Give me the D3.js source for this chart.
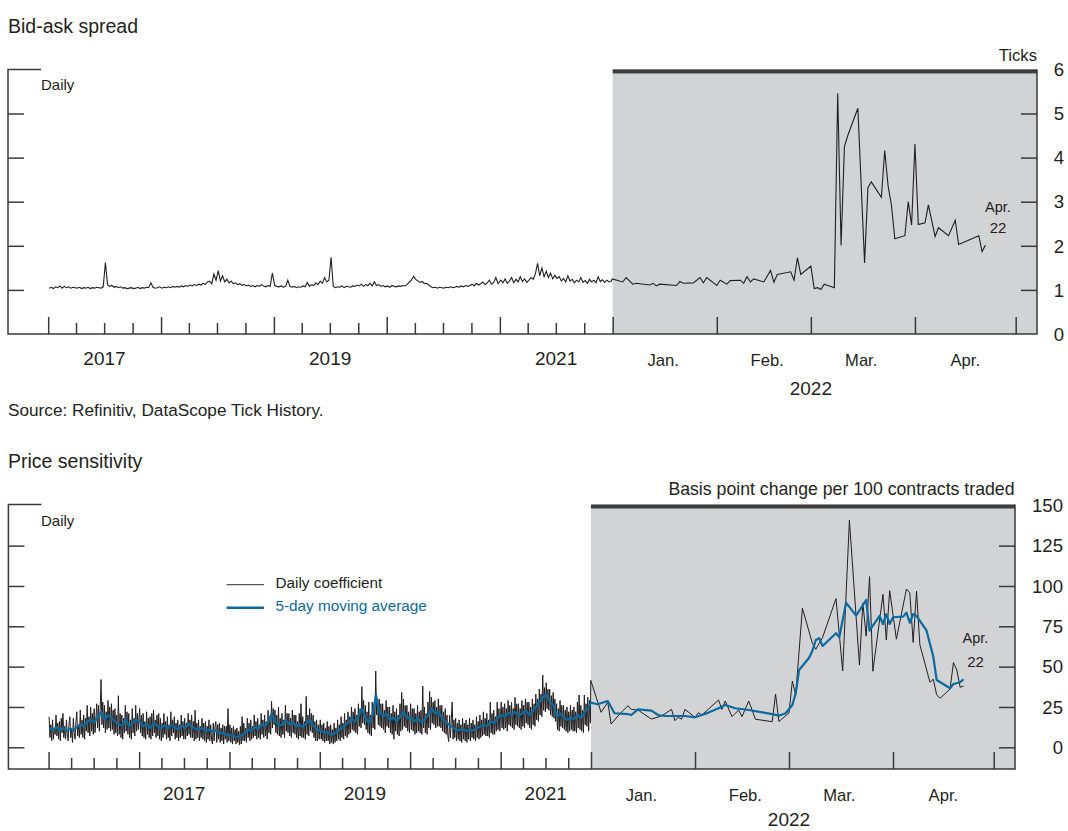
<!DOCTYPE html>
<html><head><meta charset="utf-8">
<script src="https://cdn.jsdelivr.net/npm/d3@7"></script>
<style>
html,body{margin:0;padding:0;background:#fff;}
svg{display:block;}
text{font-family:"Liberation Sans", Arial, sans-serif; fill:#231f20;}
</style></head><body>
<svg id="chart" width="1068" height="831"></svg>
<script>
// ---------- DATA ----------
// Bid-ask spread (ticks), weekly readings 2017-2021
const spread2017 = [1.04,1.06,1.03,1.07,1.05,1.09,1.04,1.08,1.05,1.07,1.04,1.06,1.05,1.04,1.06,1.03,1.05,1.04,1.06,1.03,1.05,1.04,1.06,1.05,1.04,1.07,1.62,1.12,1.08,1.10,1.06,1.08,1.05,1.07,1.04,1.05,1.03,1.04,1.05,1.03,1.04,1.06,1.03,1.05,1.04,1.06,1.05,1.16,1.06,1.04,1.05,1.07];
const spread2018 = [1.04,1.06,1.05,1.07,1.05,1.08,1.06,1.08,1.06,1.09,1.07,1.10,1.08,1.11,1.09,1.12,1.10,1.13,1.11,1.15,1.12,1.18,1.20,1.14,1.36,1.22,1.44,1.20,1.32,1.18,1.24,1.16,1.20,1.14,1.16,1.12,1.14,1.10,1.12,1.09,1.11,1.08,1.10,1.07,1.10,1.08,1.12,1.09,1.07,1.10,1.08,1.38];
const spread2019 = [1.10,1.08,1.07,1.09,1.06,1.08,1.22,1.08,1.06,1.08,1.05,1.07,1.06,1.09,1.07,1.17,1.08,1.12,1.10,1.16,1.12,1.20,1.15,1.28,1.18,1.22,1.74,1.08,1.05,1.07,1.06,1.09,1.05,1.08,1.07,1.06,1.09,1.08,1.11,1.09,1.13,1.08,1.12,1.10,1.15,1.09,1.18,1.10,1.12,1.08,1.10,1.07];
const spread2020 = [1.09,1.06,1.10,1.08,1.07,1.09,1.08,1.10,1.09,1.12,1.18,1.22,1.31,1.24,1.20,1.17,1.19,1.14,1.15,1.11,1.07,1.05,1.06,1.04,1.06,1.05,1.04,1.06,1.05,1.07,1.05,1.06,1.08,1.06,1.09,1.07,1.10,1.08,1.10,1.13,1.09,1.15,1.11,1.14,1.18,1.12,1.16,1.22,1.13,1.17,1.28,1.14];
const spread2021 = [1.22,1.16,1.25,1.15,1.20,1.28,1.16,1.24,1.18,1.30,1.19,1.25,1.17,1.22,1.28,1.24,1.37,1.60,1.32,1.50,1.30,1.42,1.28,1.38,1.25,1.33,1.26,1.30,1.20,1.26,1.18,1.32,1.20,1.24,1.16,1.22,1.18,1.28,1.17,1.21,1.15,1.24,1.18,1.22,1.16,1.30,1.19,1.23,1.17,1.22,1.18,1.20];
// Bid-ask spread, daily, 2022
const spread2022Dates = ['2021-12-31','2022-01-04','2022-01-05','2022-01-07','2022-01-08','2022-01-12','2022-01-13','2022-01-14','2022-01-15','2022-01-20','2022-01-21','2022-01-22','2022-01-25','2022-01-27','2022-01-28','2022-01-29','2022-02-01','2022-02-02','2022-02-04','2022-02-05','2022-02-08','2022-02-09','2022-02-10','2022-02-11','2022-02-12','2022-02-15','2022-02-17','2022-02-18','2022-02-19','2022-02-23','2022-02-24','2022-02-25','2022-02-26','2022-03-01','2022-03-02','2022-03-03','2022-03-04','2022-03-05','2022-03-08','2022-03-09','2022-03-10','2022-03-11','2022-03-12','2022-03-15','2022-03-17','2022-03-18','2022-03-19','2022-03-22','2022-03-23','2022-03-24','2022-03-25','2022-03-26','2022-03-29','2022-03-30','2022-03-31','2022-04-01','2022-04-02','2022-04-04','2022-04-05','2022-04-07','2022-04-08','2022-04-11','2022-04-13','2022-04-14','2022-04-20','2022-04-21','2022-04-22'];
const spread2022Values = [1.25,1.18,1.28,1.13,1.15,1.11,1.15,1.09,1.13,1.10,1.19,1.15,1.16,1.28,1.16,1.28,1.10,1.22,1.13,1.21,1.22,1.15,1.30,1.18,1.25,1.18,1.44,1.17,1.35,1.41,1.22,1.73,1.35,1.54,1.03,1.05,1.01,1.13,1.05,5.46,2.01,4.25,4.50,5.12,1.61,3.32,3.45,3.10,4.16,3.36,2.92,2.16,2.23,3.00,2.47,4.31,2.48,2.52,2.93,2.21,2.41,2.23,2.58,2.03,2.23,1.87,2.02];

// Price sensitivity: daily coefficient, twice-weekly readings 2016-2021
const coef2016 = [19,6,14,4, 17,5,12,8, 20,7,15,5, 16,4,18,9, 21,6,13,5, 17,8,4,15, 19,6,12,3, 18,9,5,16, 22,7,14,6, 23,8,17,6, 20,5,18,10, 26,9,19,7, 25,10,21,8, 24,9,17,27, 12,26,10,23, 42,14,28,12, 26,9,22,11, 29,12,25,10, 27,11,23,8, 24,9,20,7, 32,8,21,6, 20,5,18,9, 26,10,22,8, 21,6,17,5, 24,9,18,7, 26,10,21,11];
const coef2017 = [24,9,20,7, 21,6,16,5, 22,8,18,6, 19,5,21,7, 23,9,17,6, 20,7,21,5, 18,4,15,6, 21,8,16,5, 19,6,14,4, 22,7,17,9, 19,5,15,6, 17,4,14,6, 20,7,16,5, 18,5,15,7, 21,8,17,6, 20,6,16,4, 23,5,15,6, 17,4,13,6, 18,5,15,4, 16,3,13,5, 17,4,14,5, 2,15,4,13, 16,3,14,5, 15,3,12,4, 14,2,13,5, 13,3,24,4];
const coef2018 = [14,3,12,2, 13,4,11,2, 12,3,10,1.5, 13,2,19,4, 15,4,12,3, 18,6,15,4, 17,5,13,6, 20,7,16,5, 18,6,14,5, 21,8,17,6, 20,7,16,5, 23,9,19,8, 28.5,12,24,14, 23,9,20,8, 25,7,18,6, 21,8,17,6, 26,10,21,9, 21,7,18,6, 23,9,20,8, 20,6,16,5, 21,7,27,6, 19,6,16,5, 31.5,8,20,7, 24,10,21,9, 20,6,16,4, 17,4,14,5];
const coef2019 = [17,5,14,4, 15,3,12,4, 16,4,13,2, 14,3,11,2, 15,3,12,4, 17,5,14,4, 19,6,15,5, 21,7,17,6, 22,8,19,9, 25,11,22,10, 24,9,20,8, 27,13,24,12, 37.6,15,29,14, 26,11,22,9, 28,8,20,7, 28,12,24,11, 47.3,20,30,14, 30,13,27,12, 27,11,23,9, 29,13,25,12, 25,9,21,8, 26,5,22,10, 24,8,20,7, 27,10,34,11, 30,13,26,12, 26,10,22,9];
const coef2020 = [27,11,24,10, 24,8,21,9, 26,10,22,9, 23,8,38,12, 25,9,21,8, 28,12,34.6,11, 31,15,28,14, 29,12,25,13, 30,13,26,12, 26,10,22,9, 24,8,20,7, 3.5,20,6,18, 28,5,17,6, 18,4,15,5, 17,4,14,3, 18,5,15,4, 17,3,14,5, 18,4,15,6, 17,5,14,4, 19,6,16,5, 20,6,17,7, 22,8,18,7, 21,7,17,6, 28,9,21,8, 23,8,19,10, 28,11,24,10];
const coef2021 = [28,12,25,11, 27,12,24,10, 29,14,26,13, 28,12,24,11, 31,14,27,13, 27,12,24,11, 29,13,26,12, 30,15,28,14, 28,12,25,11, 30,14,27,13, 33,17,30,16, 36,20,33,19, 44.8,23,37,22, 40,24,36,23, 36,20,32,19, 34,18,30,16, 27,11,24,10, 29,13,26,12, 26,11,23,10, 25,9,22,10, 26,11,23,10, 25,10,22,9, 28,12,32.4,11, 26,10,23,9, 32.4,14,27,13, 31,10,29,15];
const coef2022Dates = ['2021-12-31','2022-01-04','2022-01-06','2022-01-07','2022-01-09','2022-01-12','2022-01-13','2022-01-15','2022-01-19','2022-01-22','2022-01-25','2022-01-26','2022-01-27','2022-01-28','2022-01-29','2022-02-01','2022-02-02','2022-02-03','2022-02-08','2022-02-09','2022-02-10','2022-02-12','2022-02-14','2022-02-15','2022-02-17','2022-02-19','2022-02-24','2022-02-25','2022-02-26','2022-03-01','2022-03-02','2022-03-03','2022-03-05','2022-03-08','2022-03-09','2022-03-11','2022-03-15','2022-03-17','2022-03-19','2022-03-22','2022-03-23','2022-03-24','2022-03-25','2022-03-26','2022-03-29','2022-03-30','2022-03-31','2022-04-02','2022-04-05','2022-04-06','2022-04-07','2022-04-08','2022-04-09','2022-04-12','2022-04-13','2022-04-14','2022-04-15','2022-04-18','2022-04-19','2022-04-20','2022-04-21','2022-04-22'];
const coef2022Values = [41.5,21.7,27.9,14.4,19.4,25.8,23.5,23.1,17.5,19.4,23.5,16.5,18.6,17.4,23.5,18.6,21.5,20,29.3,23.5,28.7,19,23.1,19,28.7,17.4,15.9,33,16,21.3,41,32.5,86.2,64.2,60.8,68,92.2,47.4,140.8,51,89.5,68.9,105.8,47.1,94.8,66.5,97.1,67,98.1,95.7,65,96.8,63.6,40.3,42.2,32.6,30.4,36.1,52.5,47.9,37.2,38];

// Price sensitivity: 5-day moving average, fortnightly readings 2016-2021
const ma2016 = [12,10.5,12.5,10.8,12,10.2,11.5,10.5,12.8,14,13,16,17,15.5,19,22,17,20,18,16,14,13.5,17.5,13,15,17];
const ma2017 = [15.9,13,14.5,12,15,13.2,11.5,13.5,12,14,12.4,11,13.5,12,14.5,13,11.5,10.7,12,10,11,9.7,10.5,8.5,9,7.8];
const ma2018 = [7.6,7,6.5,7,8.5,11,10,12.8,11.5,14,13,16,21,16,14,13.8,17,14,16,13,14,12.5,15,17,13,10.7];
const ma2019 = [10.7,9,9.5,7.6,8.5,10,11.8,13.5,15,18,16,20,24,18,15,20,32.4,22,19,21,17,18.5,16,19,22,18];
const ma2020 = [19,16,18,15.5,17,20,24,21,22,18,16,14,12.5,11,10.7,11.5,10,11,10.5,12,12.8,14,13,16,15,18];
const ma2021 = [20,19,21.5,20,22,19.5,21,23,20,22,25,28.3,31,32.4,28,26,19,21,18.5,17,18.5,17.5,20,18,22,24];
const ma2022Dates = ['2021-12-31','2022-01-03','2022-01-06','2022-01-08','2022-01-12','2022-01-13','2022-01-15','2022-01-19','2022-01-21','2022-01-23','2022-01-29','2022-02-01','2022-02-05','2022-02-08','2022-02-10','2022-02-13','2022-02-17','2022-02-21','2022-02-24','2022-02-26','2022-02-28','2022-03-02','2022-03-03','2022-03-04','2022-03-07','2022-03-08','2022-03-09','2022-03-10','2022-03-11','2022-03-15','2022-03-16','2022-03-18','2022-03-21','2022-03-24','2022-03-25','2022-03-28','2022-03-29','2022-03-30','2022-03-31','2022-04-01','2022-04-04','2022-04-05','2022-04-06','2022-04-07','2022-04-08','2022-04-11','2022-04-13','2022-04-14','2022-04-18','2022-04-19','2022-04-21','2022-04-22'];
const ma2022Values = [27.7,26.7,28.7,21.1,20.6,20,23.5,22.7,20,19.4,19.4,18.6,21.5,24.2,26.2,24.2,23.1,21.7,20.6,19.6,21.1,26.2,33.5,47.9,55.5,60,66.5,67.6,62.8,70.7,68.2,89.7,81.6,91.3,72.3,81.4,76.4,82.5,76.4,80.6,81,83.5,77.2,82.6,81.4,72.3,56.2,41.7,36.6,39.2,40.3,42.2];

// Axis labels
const spreadTicks = [0,1,2,3,4,5,6];
const sensTicks = [0,25,50,75,100,125,150];
const yearLabels = [2017,2019,2021];
const monthLabels = ['Jan.','Feb.','Mar.','Apr.'];

// ---------- HELPERS ----------
const parse = d3.timeParse('%Y-%m-%d');
// readings taken every `step` days through the year, starting `off` days after 1 January
function regular(year, vals, step, off){
  return vals.map((v,i)=>({date:d3.timeHour.offset(new Date(year,0,1), Math.round((off+step*i)*24)), value:v}));
}
function dated(dates, vals){ return dates.map((d,i)=>({date:parse(d), value:vals[i]})); }

const ink = '#231f20', frameC = '#3a3a3a', shade = '#d2d3d5', bandC = '#3c3c3c', blue = '#0b6a9f';
const svg = d3.select('#chart');
svg.append('rect').attr('width',1068).attr('height',831).attr('fill','#fff');

function txt(x,y,s,size,anchor,color){
  return svg.append('text').attr('x',x).attr('y',y).attr('font-size',size)
    .attr('text-anchor',anchor||'start').style('fill',color||ink).text(s);
}

const split = new Date(2022,0,1);
const mayEnd = new Date(2022,4,1);

function panel(c){
  const g = svg.append('g');
  const x = c.x, y = c.y;
  g.append('rect').attr('x',x(split)).attr('y',c.top).attr('width',c.right-x(split)).attr('height',c.bottom-c.top).attr('fill',shade);
  g.append('rect').attr('x',x(split)).attr('y',c.top).attr('width',c.right-x(split)).attr('height',4).attr('fill',bandC);
  g.append('path').attr('d',`M${c.left+33},${c.top}H${c.left}V${c.bottom}H${c.right}V${c.top}`)
    .attr('fill','none').attr('stroke',frameC).attr('stroke-width',1.5);
  const yearT = d3.timeYear.range(c.start, d3.timeDay.offset(split,1));
  const quarterT = d3.timeMonth.every(3).range(c.start, split).filter(d=>d.getMonth()!==0);
  const monthT = d3.timeMonth.range(d3.timeDay.offset(split,1), d3.timeDay.offset(mayEnd,1));
  const style = s=>{ s.select('.domain').remove(); s.selectAll('line').attr('stroke',frameC).attr('stroke-width',1.5); };
  g.append('g').attr('transform',`translate(0,${c.bottom})`)
    .call(d3.axisTop(x).tickValues(yearT.concat(monthT)).tickSize(17).tickFormat('')).call(style);
  g.append('g').attr('transform',`translate(0,${c.bottom})`)
    .call(d3.axisTop(x).tickValues(quarterT).tickSize(11).tickFormat('')).call(style);
  g.append('g').attr('transform',`translate(${c.left},0)`)
    .call(d3.axisRight(y).tickValues(c.inner).tickSize(16).tickFormat('')).call(style);
  g.append('g').attr('transform',`translate(${c.right},0)`)
    .call(d3.axisLeft(y).tickValues(c.inner).tickSize(16).tickFormat('')).call(style);
  c.labels.forEach(v=>txt(c.labelX, y(v)+6.7, String(v), 18.6, 'end'));
  yearLabels.forEach(yr=>txt(x(new Date(yr,6,2)), c.bottom+31, String(yr), 19, 'middle'));
  monthLabels.forEach((m,i)=>txt(x(new Date(2022,i,16)), c.bottom+31.5, m, 16.6, 'middle'));
  txt(x(new Date(2022,2,1)), c.bottom+c.yearGap, '2022', 19, 'middle');
  return g;
}

// ---------- TOP PANEL ----------
const xTop = d3.scaleTime().domain([new Date(2017,0,1), split, mayEnd]).range([48.2, 612.7, 1015.7]);
const yTop = d3.scaleLinear().domain([0,6]).range([334, 69.4]);
const gTop = panel({x:xTop, y:yTop, left:8, right:1037, top:69.4, bottom:334, start:new Date(2017,0,1),
  inner:[1,2,3,4,5], labels:spreadTicks, labelX:1064, yearGap:61});
const spreadSeries = [].concat(
  regular(2017,spread2017,7,3), regular(2018,spread2018,7,3), regular(2019,spread2019,7,3),
  regular(2020,spread2020,7,3), regular(2021,spread2021,7,3), dated(spread2022Dates, spread2022Values));
const lineTop = d3.line().x(d=>xTop(d.date)).y(d=>yTop(d.value));
gTop.append('path').datum(spreadSeries).attr('d',lineTop).attr('fill','none').attr('stroke',ink).attr('stroke-width',1.1);

txt(8, 33, 'Bid-ask spread', 19.5);
txt(1037, 61, 'Ticks', 16.7, 'end');
txt(41, 90, 'Daily', 15);
txt(998, 211.5, 'Apr.', 14.5, 'middle');
txt(998, 233, '22', 15, 'middle');
txt(8, 416, 'Source: Refinitiv, DataScope Tick History.', 17.2);

// ---------- BOTTOM PANEL ----------
const xBot = d3.scaleTime().domain([new Date(2016,0,1), split, mayEnd]).range([48.6, 591, 993.7]);
const yBot = d3.scaleLinear().domain([0,150]).range([747.3, 505.3]);
const gBot = panel({x:xBot, y:yBot, left:8.4, right:1015, top:504.5, bottom:769, start:new Date(2016,0,1),
  inner:[0,25,50,75,100,125], labels:sensTicks, labelX:1063, yearGap:57});
const coefSeries = [].concat(
  regular(2016,coef2016,3.5,2), regular(2017,coef2017,3.5,2), regular(2018,coef2018,3.5,2),
  regular(2019,coef2019,3.5,2), regular(2020,coef2020,3.5,2), regular(2021,coef2021,3.5,2),
  dated(coef2022Dates, coef2022Values));
const maSeries = [].concat(
  regular(2016,ma2016,14,3), regular(2017,ma2017,14,3), regular(2018,ma2018,14,3),
  regular(2019,ma2019,14,3), regular(2020,ma2020,14,3), regular(2021,ma2021,14,3),
  dated(ma2022Dates, ma2022Values));
const lineBot = d3.line().x(d=>xBot(d.date)).y(d=>yBot(d.value));
gBot.append('path').datum(coefSeries).attr('d',lineBot).attr('fill','none').attr('stroke',ink).attr('stroke-width',1);
gBot.append('path').datum(maSeries).attr('d',lineBot).attr('fill','none').attr('stroke',blue).attr('stroke-width',2.2).attr('stroke-linejoin','round');

txt(8, 468, 'Price sensitivity', 19.5);
txt(1014.5, 495, 'Basis point change per 100 contracts traded', 17.7, 'end');
txt(41, 526, 'Daily', 15);
txt(975.5, 643, 'Apr.', 14.5, 'middle');
txt(975.5, 666.5, '22', 15, 'middle');

const legend = [{label:'Daily coefficient', color:'#555', w:1.2, textColor:ink, y:584.7},
                {label:'5-day moving average', color:blue, w:2.4, textColor:blue, y:607.7}];
legend.forEach(l=>{
  svg.append('line').attr('x1',226.6).attr('x2',264).attr('y1',l.y).attr('y2',l.y).attr('stroke',l.color).attr('stroke-width',l.w);
  txt(275.5, l.y+3.5, l.label, 15.3, 'start', l.textColor);
});
</script></body></html>
